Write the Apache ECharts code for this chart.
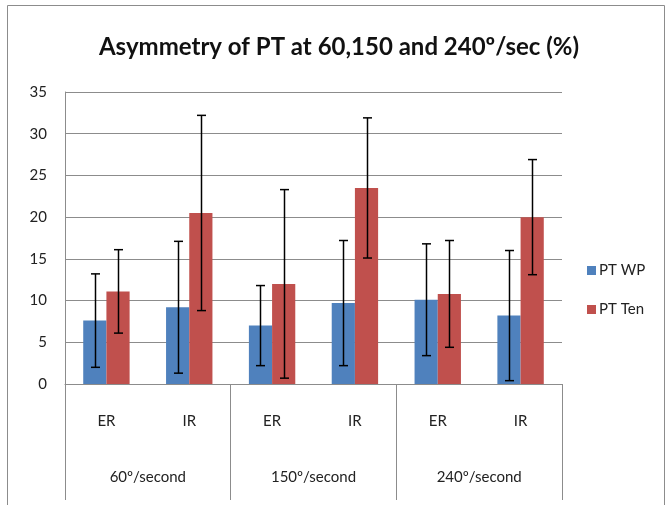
<!DOCTYPE html>
<html>
<head>
<meta charset="utf-8">
<script src="https://cdn.jsdelivr.net/npm/echarts@6/dist/echarts.min.js"></script>
<style>html,body{margin:0;padding:0;background:#fff;}#c{width:666px;height:505px;}</style>
</head>
<body>
<div id="c"></div>
<script>
var categories = ['ER', 'IR', 'ER', 'IR', 'ER', 'IR'];
var groups = ['60º/second', '150º/second', '240º/second'];
var wpMean = [7.6, 9.2, 7.0, 9.7, 10.1, 8.2];
var wpErr = [5.6, 7.9, 4.8, 7.5, 6.7, 7.8];
var tenMean = [11.1, 20.5, 12.0, 23.5, 10.8, 20.0];
var tenErr = [5.0, 11.7, 11.3, 8.4, 6.4, 6.9];
var yTicks = { min: 0, max: 35, interval: 5 };

var BAR_FRAC = 0.28;
var FONT = 'Lato';

function errData(mean, err) {
  return mean.map(function (m, i) { return [i, m, err[i]]; });
}
function errSeries(mean, err, sign) {
  return {
    type: 'custom',
    z: 10,
    silent: true,
    encode: { x: 0, y: 1 },
    data: errData(mean, err),
    renderItem: function (params, api) {
      var x = api.value(0), m = api.value(1), e = api.value(2);
      var bw = api.size([1, 0])[0];
      var off = sign * bw * BAR_FRAC / 2;
      var top = api.coord([x, m + e]);
      var bot = api.coord([x, m - e]);
      var cx = Math.round(top[0] + off) + 0.5;
      var cap = 4.5;
      var st = { stroke: '#000', lineWidth: 1.5 };
      return {
        type: 'group',
        children: [
          { type: 'line', shape: { x1: cx, y1: top[1], x2: cx, y2: bot[1] }, style: st },
          { type: 'line', shape: { x1: cx - cap, y1: top[1], x2: cx + cap, y2: top[1] }, style: st },
          { type: 'line', shape: { x1: cx - cap, y1: bot[1], x2: cx + cap, y2: bot[1] }, style: st }
        ]
      };
    }
  };
}

var chart = echarts.init(document.getElementById('c'));
chart.setOption({
  animation: false,
  backgroundColor: '#fff',
  textStyle: { fontFamily: FONT },
  title: {
    text: 'Asymmetry of PT at 60,150 and 240º/sec (%)',
    left: 334, top: 30, textAlign: 'center',
    textStyle: { fontFamily: FONT, fontWeight: 'bold', fontSize: 24, color: '#111' }
  },
  graphic: [{
    type: 'rect', silent: true,
    shape: { x: 7.5, y: 5.5, width: 657, height: 510 },
    style: { fill: 'none', stroke: '#8c8c8c', lineWidth: 1 }
  }],
  legend: {
    orient: 'vertical', left: 582, top: 258, itemGap: 24,
    itemWidth: 9, itemHeight: 9, icon: 'rect',
    data: ['PT WP', 'PT Ten'],
    textStyle: { fontFamily: FONT, fontSize: 15, color: '#222', padding: [0, 0, 0, -2] }
  },
  grid: { left: 65, right: 104, top: 92, bottom: 121 },
  xAxis: [{
    type: 'category', data: categories, position: 'bottom',
    axisLine: { lineStyle: { color: '#8c8c8c' } },
    axisTick: { show: false },
    axisLabel: { margin: 30, fontSize: 15, color: '#222', fontFamily: FONT, interval: 0 }
  }, {
    type: 'category', data: groups, position: 'bottom',
    axisLine: { show: false },
    axisTick: { show: true, length: 116, lineStyle: { color: '#8c8c8c' } },
    axisLabel: { margin: 86, fontSize: 15, color: '#222', fontFamily: FONT, interval: 0 }
  }],
  yAxis: {
    type: 'value', min: yTicks.min, max: yTicks.max, interval: yTicks.interval,
    axisLine: { show: true, lineStyle: { color: '#8c8c8c' } },
    axisTick: { show: false },
    axisLabel: { margin: 18, fontSize: 15, color: '#222', fontFamily: FONT },
    splitLine: { lineStyle: { color: '#8c8c8c', width: 1 } }
  },
  series: [
    { name: 'PT WP', type: 'bar', data: wpMean, barWidth: (BAR_FRAC * 100) + '%', barGap: '0%', itemStyle: { color: '#4F81BD' } },
    { name: 'PT Ten', type: 'bar', data: tenMean, barWidth: (BAR_FRAC * 100) + '%', barGap: '0%', itemStyle: { color: '#C0504D' } },
    errSeries(wpMean, wpErr, -1),
    errSeries(tenMean, tenErr, 1)
  ]
});
</script>
</body>
</html>
